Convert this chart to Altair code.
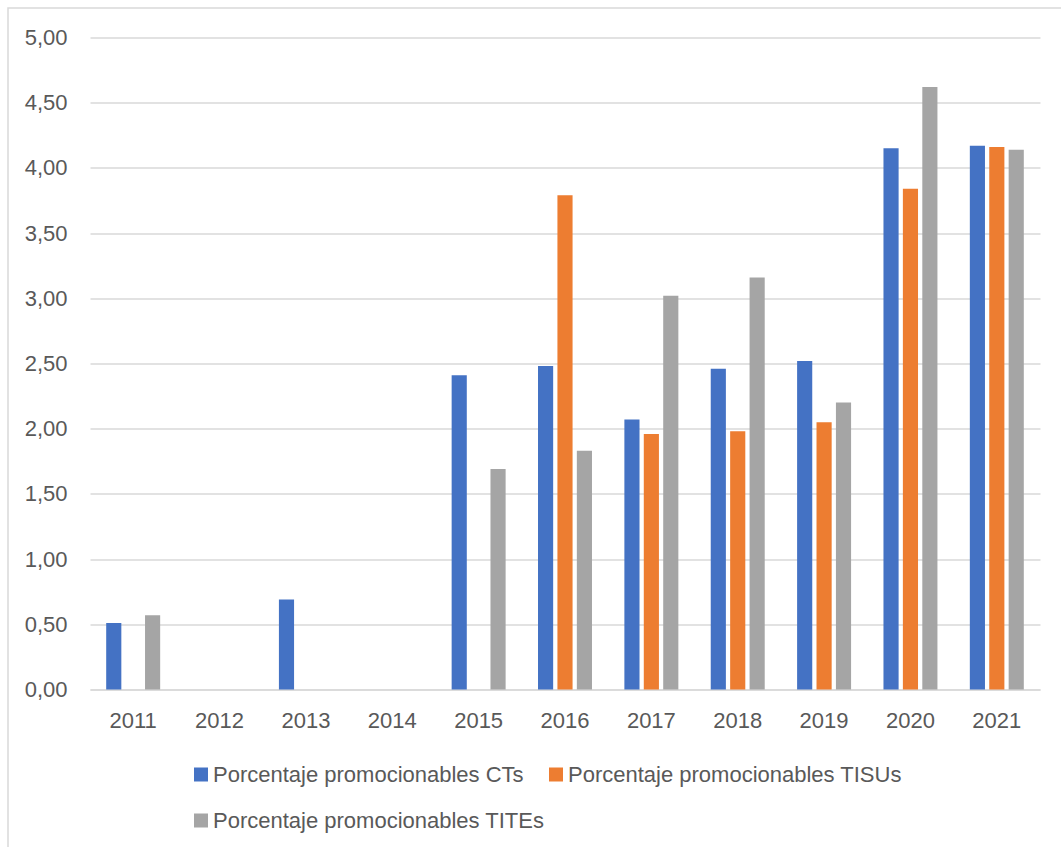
import altair as alt
import pandas as pd

years = ["2011", "2012", "2013", "2014", "2015", "2016", "2017", "2018", "2019", "2020", "2021"]
series_names = [
    "Porcentaje promocionables CTs",
    "Porcentaje promocionables TISUs",
    "Porcentaje promocionables TITEs",
]
cts = [0.51, None, 0.69, None, 2.41, 2.48, 2.07, 2.46, 2.52, 4.15, 4.17]
tisus = [None, None, None, None, None, 3.79, 1.96, 1.98, 2.05, 3.84, 4.16]
tites = [0.57, None, None, None, 1.69, 1.83, 3.02, 3.16, 2.20, 4.62, 4.14]
colors = ["#4472C4", "#ED7D31", "#A5A5A5"]
y_ticks = [0, 0.5, 1, 1.5, 2, 2.5, 3, 3.5, 4, 4.5, 5]

rows = []
for name, values in zip(series_names, [cts, tisus, tites]):
    for year, v in zip(years, values):
        if v is not None:
            rows.append({"year": year, "serie": name, "valor": v})
df = pd.DataFrame(rows)

FONT = "Liberation Sans"
TEXT = "#595959"
GRID = "#D9D9D9"

W, H = 950, 652

bars = alt.Chart(df).mark_bar().encode(
    x=alt.X(
        "year:N",
        scale=alt.Scale(domain=years, paddingInner=0.375, paddingOuter=0.1875),
        axis=alt.Axis(
            title=None, labelAngle=0, ticks=False, domain=True, domainColor=GRID,
            domainWidth=1.3, labelFont=FONT, labelFontSize=22, labelColor=TEXT,
            labelPadding=21, grid=False,
        ),
    ),
    xOffset=alt.XOffset(
        "serie:N",
        scale=alt.Scale(domain=series_names, paddingInner=0.22, paddingOuter=0),
    ),
    y=alt.Y(
        "valor:Q",
        scale=alt.Scale(domain=[0, 5], nice=False),
        axis=alt.Axis(
            title=None, values=y_ticks, ticks=False, domain=False,
            grid=True, gridColor=GRID, gridWidth=1.3,
            labelFont=FONT, labelFontSize=22, labelColor=TEXT, labelPadding=23,
            labelExpr="replace(format(datum.value, '.2f'), '.', ',')",
        ),
    ),
    color=alt.Color(
        "serie:N",
        scale=alt.Scale(domain=series_names, range=colors),
        legend=alt.Legend(
            title=None, orient="none", legendX=100, legendY=726, columns=2,
            direction="horizontal",
            symbolType="square", symbolSize=196, symbolStrokeWidth=0,
            labelFont=FONT, labelFontSize=22, labelColor=TEXT, labelLimit=0,
            labelOffset=1, columnPadding=0, rowPadding=24,
        ),
    ),
)

# outer frame of the chart area
frame = alt.Chart(pd.DataFrame({"k": [0]})).mark_rect(
    fill="transparent", stroke=GRID, strokeWidth=1.5
).encode(
    x=alt.value(-82), x2=alt.value(1000), y=alt.value(-29.5), y2=alt.value(900)
)

chart = (
    alt.layer(frame, bars)
    .properties(
        width=W, height=H,
        autosize=alt.AutoSizeParams(type="none"),
        padding={"left": 90, "top": 37.5, "right": 21, "bottom": 158},
        view=alt.ViewBackground(stroke="transparent", strokeWidth=0, strokeOpacity=0),
    )
    .configure_view(stroke="transparent", strokeWidth=0, strokeOpacity=0)
    .configure(background="white")
)

chart.save("out.html", embed_options={"renderer": "svg", "actions": False})
